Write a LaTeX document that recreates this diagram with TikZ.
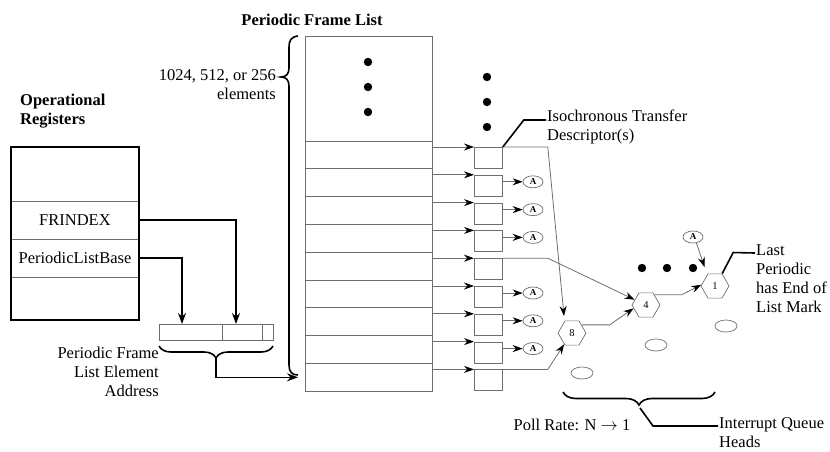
\documentclass[tikz,border=0pt]{standalone}
\usepackage{fontspec}
\setmainfont{Liberation Serif}
\usetikzlibrary{arrows.meta,positioning,shapes.geometric,decorations.pathreplacing}
\definecolor{linegray}{RGB}{110,110,110}

\begin{document}
\begin{tikzpicture}[
    x=1pt, y=-1pt,
    font=\fontsize{16.5}{19}\selectfont,
    cell/.style={draw=linegray, line width=0.8pt, minimum width=127pt, minimum height=27.8pt, inner sep=0pt, outer sep=0pt},
    reg/.style={draw=linegray, line width=0.8pt, minimum width=128pt, inner sep=0pt, outer sep=0pt},
    addr/.style={draw=linegray, line width=0.7pt, minimum height=16pt, inner sep=0pt, outer sep=0pt},
    tdbox/.style={draw=linegray, line width=0.8pt, minimum width=28pt, minimum height=21pt, inner sep=0pt, anchor=north west},
    abox/.style={draw=linegray, ellipse, line width=0.7pt, minimum width=20pt, minimum height=12pt, inner sep=0pt, font=\fontsize{9}{9}\selectfont\bfseries},
    qh/.style={draw=linegray, regular polygon, regular polygon sides=6, minimum size=28pt, inner sep=0pt, line width=0.7pt, font=\fontsize{10.5}{10.5}\selectfont},
    oval/.style={draw=linegray, ellipse, minimum width=22pt, minimum height=12pt, line width=0.7pt},
    lbl/.style={inner sep=1pt, align=left},
    garr/.style={draw=linegray, line width=0.8pt, -{Stealth[length=10pt,width=7pt,color=black]}},
    barr/.style={line width=1.6pt, -{Stealth[length=11pt,width=8pt]}},
    lead/.style={line width=1.6pt},
    brc/.style={line width=1.6pt, decorate}
  ]
  \useasboundingbox (0,0) rectangle (830,451);

  % operational registers
  \node[lbl, font=\fontsize{16.5}{19}\selectfont\bfseries, anchor=north west] (oper) at (19,93) {Operational\\Registers};
  \node[reg, minimum height=54pt] (reg0) at (75,174) {};
  \node[reg, minimum height=38pt, below=0pt of reg0] (rfr) {FRINDEX};
  \node[reg, minimum height=38pt, below=0pt of rfr] (rplb) {PeriodicListBase};
  \node[reg, minimum height=43pt, below=0pt of rplb] (reg3) {};
  \draw[line width=1.6pt] (reg0.north west) rectangle (reg3.south east);

  % frame list element address
  \node[addr, minimum width=63pt] (ad1) at (190.5,332) {};
  \node[addr, minimum width=40pt, right=0pt of ad1] (ad2) {};
  \node[addr, minimum width=11pt, right=0pt of ad2] (ad3) {};
  \node[lbl, align=right, anchor=north east] (pflea) at (160,346) {Periodic Frame\\List Element\\Address};
  \draw[barr] (rfr.east) -| ([xshift=-6pt]ad2.north);
  \draw[barr] (rplb.east) -| ([xshift=-8.5pt]ad1.north);
  \draw[brc, decoration={brace, amplitude=12pt}] (273,346) -- (159,346);
  \coordinate (atip) at (216,358);

  % periodic frame list
  \node[font=\fontsize{16.5}{19}\selectfont\bfseries] (pfl) at (312,20) {Periodic Frame List};
  \node[lbl, align=right, anchor=north east] (elem) at (277,68) {1024, 512, or 256\\elements};
  \node[cell, minimum height=105pt] (ftop) at (368.5,88.5) {};
  \fill (368,62) circle (4.2pt) (368,87) circle (4.2pt) (368,112) circle (4.2pt);
  \fill (487,77) circle (4.2pt) (487,102) circle (4.2pt) (487,127) circle (4.2pt);
  \draw[line width=1.6pt] (298,36) .. controls (291,37) and (289,40) .. (289,48) -- (289,68)
    .. controls (289,74) and (286,77) .. (281,77) .. controls (286,77) and (289,80) .. (289,86)
    -- (289,365) .. controls (289,372) and (292,375) .. (298,375);

  \foreach \i in {1,...,9} {
    \node[cell] (r\i) at (368.5,{141+\i*27.8-13.9}) {};
    \node[tdbox] (td\i) at ([xshift=42pt,yshift=-6pt]r\i.north east) {};
    \draw[garr] (td\i.north west -| r\i.east) -- (td\i.north west);
  }
  \foreach \i in {2,3,4,6,7,8} {
    \node[abox] (a\i) at (533,{141+(\i-1)*27.8+13}) {A};
    \draw[garr] (td\i.east |- a\i) -- (a\i);
  }
  \draw[barr, shorten >=7pt] (atip) |- (r9.west);

  \node[lbl, anchor=north west] (itd) at (546,109) {Isochronous Transfer\\Descriptor(s)};
  \draw[lead] (td1.north east) -- ++(21,-27) -- (itd.west |- 0,120);

  % interrupt queue heads
  \node[qh] (h8) at (572,333) {8};
  \node[qh] (h4) at (646,305) {4};
  \node[qh] (h1) at (715,286) {1};
  \node[abox] (a0) at (693,237) {A};
  \node[oval] (q1) at (582,373) {};
  \node[oval] (q2) at (656,345) {};
  \node[oval] (q3) at (726,326) {};
  \fill (642,268) circle (4.2pt) (667,268) circle (4.2pt) (693,268) circle (4.2pt);

  \draw[garr, shorten >=5pt] (td1.north east) -- ++(45,0) -- (h8.122);
  \draw[garr] (td5.north east) -- ++(45,0) -- (h4.155);
  \draw[garr] (td9.north east) -- ++(45,0) -- (h8.235);
  \draw[garr] (h8.40) -- ++(28,0) -- (h4.195);
  \draw[garr] (h4.50) -- ++(27,0) -- (h1.175);
  \draw[garr, shorten >=8pt] (a0.300) -- (h1.125);

  \node[lbl, anchor=north west] (last) at (755,243) {Last\\Periodic\\has End of\\List Mark};
  \draw[lead] (h1.60) -- ++(11,-21) -- (last.west |- 0,253);

  \draw[brc, decoration={brace, amplitude=13pt}] (715,392) -- (563,392);
  \coordinate (qtip) at (640,408);
  \node[lbl] (poll) at (572,425) {Poll Rate: N $\rightarrow$ 1};
  \node[lbl, anchor=north west] (iqh) at (718,416) {Interrupt Queue\\Heads};
  \draw[lead] (qtip) -- ++(13,18) -- (iqh.west |- 0,426);
\end{tikzpicture}
\end{document}
